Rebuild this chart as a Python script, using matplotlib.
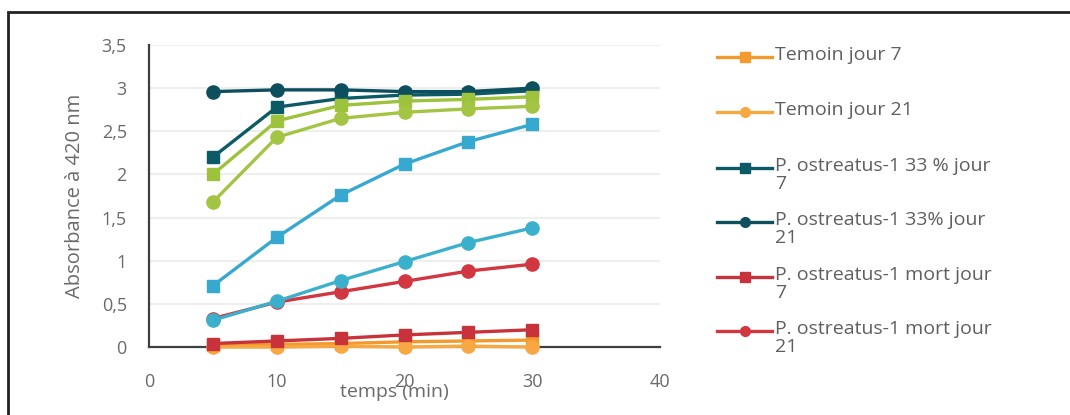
import matplotlib.pyplot as plt
from matplotlib.lines import Line2D
from matplotlib.patches import Rectangle

plt.rcParams['font.family'] = ['Open Sans', 'DejaVu Sans']

# données
temps = [5, 10, 15, 20, 25, 30]

temoin_j7 = [0.02, 0.03, 0.04, 0.06, 0.07, 0.08]
temoin_j21 = [0.0, 0.0, 0.01, 0.0, 0.01, 0.0]
po33_j7 = [2.2, 2.78, 2.88, 2.92, 2.93, 2.97]
po33_j21 = [2.96, 2.98, 2.98, 2.96, 2.96, 3.0]
mort_j7 = [0.04, 0.07, 0.1, 0.14, 0.17, 0.2]
mort_j21 = [0.33, 0.52, 0.64, 0.76, 0.88, 0.96]
vert_j7 = [2.0, 2.62, 2.8, 2.85, 2.87, 2.9]
vert_j21 = [1.68, 2.43, 2.65, 2.72, 2.76, 2.79]
bleu_j7 = [0.71, 1.27, 1.76, 2.12, 2.38, 2.58]
bleu_j21 = [0.31, 0.53, 0.77, 0.99, 1.21, 1.38]

noms = ["Temoin jour 7", "Temoin jour 21",
        "P. ostreatus-1 33 % jour\n7", "P. ostreatus-1 33% jour\n21",
        "P. ostreatus-1 mort jour\n7", "P. ostreatus-1 mort jour\n21"]

series = [
    (temoin_j7, "#F39A2E", "s"),
    (temoin_j21, "#F7A843", "o"),
    (po33_j7, "#0C5A66", "s"),
    (po33_j21, "#0E4F5E", "o"),
    (mort_j7, "#C8333B", "s"),
    (mort_j21, "#D23640", "o"),
    (vert_j7, "#9DC23C", "s"),
    (vert_j21, "#A4C444", "o"),
    (bleu_j7, "#37A9D1", "s"),
    (bleu_j21, "#3BB0CC", "o"),
]

yticks = [0, 0.5, 1, 1.5, 2, 2.5, 3, 3.5]
ylabels = ["0", "0,5", "1", "1,5", "2", "2,5", "3", "3,5"]
xticks = [0, 10, 20, 30, 40]

W, H = 1070, 415
fig = plt.figure(figsize=(W / 100, H / 100), dpi=100)
ax = fig.add_axes([149 / W, 1 - 347 / H, (660 - 149) / W, (347 - 45) / H])

for vals, col, mk in series:
    ax.plot(temps, vals, color=col, lw=2.4, marker=mk,
            markersize=9 if mk == "s" else 9.5, clip_on=False, zorder=3)

ax.set_xlim(0, 40)
ax.set_ylim(0, 3.5)
ax.set_xticks(xticks)
ax.set_yticks(yticks, labels=ylabels)
ax.tick_params(length=0, labelsize=13, colors="#6A6A6A", pad=16)
ax.tick_params(axis="x", pad=19)
ax.grid(axis="y", color="#EEEEEE", lw=1.5)
ax.set_axisbelow(True)
for s in ["top", "right"]:
    ax.spines[s].set_visible(False)
for s in ["left", "bottom"]:
    ax.spines[s].set_color("#404040")
    ax.spines[s].set_linewidth(1.6)

ax.set_ylabel("Absorbance à 420 nm", fontsize=14.5, color="#6A6A6A", labelpad=12)
ax.set_xlabel("temps (min)", fontsize=14, color="#6A6A6A")
ax.xaxis.set_label_coords(0.48, -0.12)

# légende (tronquée comme sur l'original)
lignes_y = [57, 112, 168, 222, 277, 331]
for nom, (vals, col, mk), py in zip(noms, series, lignes_y):
    fy = 1 - py / H
    fig.add_artist(Line2D([717 / W, 772 / W], [fy, fy], color=col, lw=2.4,
                          transform=fig.transFigure))
    fig.add_artist(Line2D([745 / W], [fy], color=col, marker=mk, markersize=7,
                          transform=fig.transFigure))
    fig.text(775 / W, fy + 11 / H, nom, fontsize=14, color="#5F5F5F",
             va="top", ha="left", linespacing=1.0)

# cadre
fig.add_artist(Rectangle((8 / W, -0.1), 1.2, 1 - 12 / H + 0.1, fill=False,
                         edgecolor="#222222", lw=2, transform=fig.transFigure))

fig.savefig("out.png", dpi=100)
